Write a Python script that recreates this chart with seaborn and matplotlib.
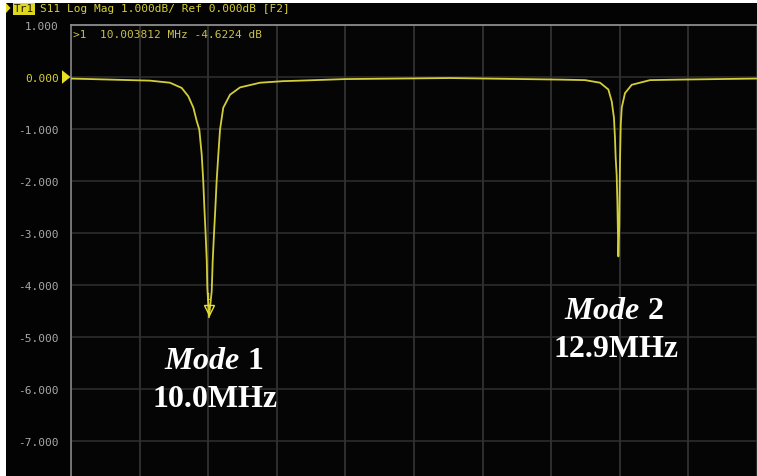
import numpy as np
import pandas as pd
import matplotlib
matplotlib.use("Agg")
import matplotlib.pyplot as plt
import matplotlib.transforms as mtransforms
from matplotlib.patches import Rectangle, Polygon
import seaborn as sns

# S11 log-magnitude trace (frequency in MHz, magnitude in dB)
freq_mhz = [9.025, 9.585, 9.727, 9.810, 9.857, 9.893, 9.917, 9.935, 9.952, 9.963,
            9.971, 9.980, 9.988, 9.992, 10.003812, 10.023, 10.030, 10.039, 10.049, 10.058,
            10.070, 10.082, 10.105, 10.153, 10.224, 10.366, 10.529, 10.649, 10.968, 11.713,
            12.493, 12.671, 12.777, 12.836, 12.860, 12.876, 12.883, 12.888, 12.895, 12.900,
            12.907, 12.914, 12.916, 12.919, 12.924, 12.931, 12.954, 13.002, 13.132, 13.344,
            13.890]
s11_db = [-0.03, -0.07, -0.11, -0.21, -0.37, -0.59, -0.85, -1.01, -1.49, -2.00,
          -2.51, -3.03, -3.54, -4.05, -4.6224, -4.12, -3.54, -3.03, -2.51, -2.00,
          -1.49, -1.01, -0.59, -0.34, -0.20, -0.11, -0.08, -0.07, -0.04, -0.02,
          -0.05, -0.06, -0.11, -0.24, -0.47, -0.79, -1.17, -1.56, -1.88, -2.39,
          -3.45, -2.84, -2.19, -1.56, -0.92, -0.59, -0.31, -0.15, -0.06, -0.05,
          -0.03]

# Marker 1 readout
marker_freq = 10.003812
marker_db = -4.6224

# Mode annotations
mode_names = ["1", "2"]
mode_freqs = ["10.0MHz", "12.9MHz"]

# Display scale
y_ticks = [1.0, 0.0, -1.0, -2.0, -3.0, -4.0, -5.0, -6.0, -7.0]
header = "S11 Log Mag 1.000dB/ Ref 0.000dB [F2]"
trace_name = "Tr1"

df = pd.DataFrame({"freq": freq_mhz, "db": s11_db})

sns.set_theme(style="dark")
plt.rcParams["mathtext.fontset"] = "custom"
plt.rcParams["mathtext.it"] = "Liberation Serif:italic:bold"
plt.rcParams["mathtext.rm"] = "Liberation Serif:bold"

W, H = 757, 477
fig = plt.figure(figsize=(W / 100, H / 100), dpi=100, facecolor="#030303")
ax = fig.add_axes([71 / W, 0.0, 1 - 71 / W, 1 - 26 / H])
ax.set_facecolor("#050505")

TRACE = "#d2cd3a"
YELLOW = "#d8d030"

sns.lineplot(data=df, x="freq", y="db", ax=ax, color=TRACE, linewidth=1.3,
             estimator=None, sort=False, zorder=5)

x0, x1 = 9.0251, 13.8903
ax.set_xlim(x0, x1)
ax.set_ylim(-7.673, 1.0)
ax.set_xticks(np.linspace(x0, x1, 11))
ax.set_xticklabels([])
ax.set_yticks(y_ticks)
ax.set_yticklabels([f"{v:.3f}" for v in y_ticks], family="DejaVu Sans Mono",
                   fontsize=8, color="#a8a8a8")
for lbl, v in zip(ax.get_yticklabels(), y_ticks):
    if v == 0.0:
        lbl.set_color(YELLOW)
ax.tick_params(axis="both", length=0)
ax.tick_params(axis="y", pad=9)
ax.set_xlabel("")
ax.set_ylabel("")

ax.grid(True, axis="x", color="#3a3a3a", linewidth=1.1)
ax.grid(True, axis="y", color="#303030", linewidth=1.1)
for side in ["right", "bottom"]:
    ax.spines[side].set_visible(False)
ax.spines["left"].set_color("#7c7c7c")
ax.spines["left"].set_linewidth(1.3)
ax.spines["top"].set_color("#8c8c8c")
ax.spines["top"].set_linewidth(1.3)

# Reference level arrow at 0 dB
blend = mtransforms.blended_transform_factory(fig.transFigure, ax.transData)
ax.add_patch(Polygon([(62 / W, 0.13), (62 / W, -0.13), (70.5 / W, 0.0)],
                     closed=True, transform=blend, facecolor="#e8e020",
                     edgecolor="none", clip_on=False, zorder=6))

# Marker 1 triangle and label above the trace minimum
mk_off = mtransforms.offset_copy(ax.transData, fig=fig, x=0, y=5, units="points")
ax.plot([marker_freq], [marker_db], marker="v", markersize=7, markerfacecolor="none",
        markeredgecolor="#e8e030", markeredgewidth=1.0, transform=mk_off, zorder=7)
lbl_off = mtransforms.offset_copy(ax.transData, fig=fig, x=0, y=12, units="points")
ax.text(marker_freq, marker_db, "1", transform=lbl_off, ha="center", va="bottom",
        fontsize=6, color="#e8e030", family="DejaVu Sans Mono", zorder=7)

# Marker readout
ax.text(73 / W, 1 - 35 / H, f">1  {marker_freq:.6f} MHz {marker_db:.4f} dB",
        transform=fig.transFigure, ha="left", va="center", fontsize=8,
        family="DejaVu Sans Mono", color="#c8c04a")

# Mode annotations
serif = "Liberation Serif"
ax.text(10.036, -5.596, r"$\mathit{Mode}$ " + mode_names[0], ha="center", va="baseline",
        fontsize=23, color="white", family=serif, fontweight="bold")
ax.text(10.046, -6.327, mode_freqs[0], ha="center", va="baseline",
        fontsize=23, color="white", family=serif, fontweight="bold")
ax.text(12.876, -4.635, r"$\mathit{Mode}$ " + mode_names[1], ha="center", va="baseline",
        fontsize=23, color="white", family=serif, fontweight="bold")
ax.text(12.890, -5.365, mode_freqs[1], ha="center", va="baseline",
        fontsize=23, color="white", family=serif, fontweight="bold")

# Header line
fig.text(14 / W, 1 - 9.5 / H, trace_name, ha="left", va="center", fontsize=8,
         family="DejaVu Sans Mono", color="#202000",
         bbox=dict(boxstyle="square,pad=0.1", facecolor="#e0d820", edgecolor="none"))
fig.text(40 / W, 1 - 9.5 / H, header, ha="left", va="center", fontsize=8,
         family="DejaVu Sans Mono", color=YELLOW)
fig.add_artist(Polygon([(6 / W, 1 - 4 / H), (6 / W, 1 - 14 / H), (10.5 / W, 1 - 9 / H)],
                       closed=True, transform=fig.transFigure, facecolor="#e8e020",
                       edgecolor="none"))

# Page margins
fig.add_artist(Rectangle((0, 0), 6 / W, 1, transform=fig.transFigure,
                         facecolor="white", edgecolor="none", zorder=10))
fig.add_artist(Rectangle((0, 1 - 4 / H), 1, 4 / H, transform=fig.transFigure,
                         facecolor="white", edgecolor="none", zorder=10))

fig.savefig("out.png", dpi=100, facecolor=fig.get_facecolor())
